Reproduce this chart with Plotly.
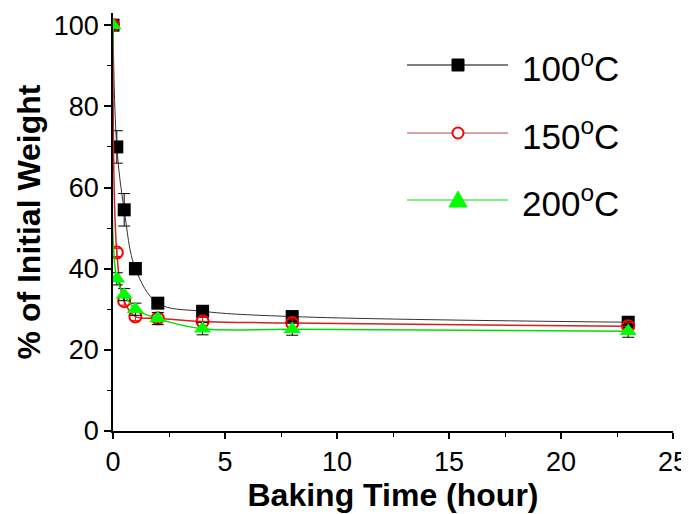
import plotly.graph_objects as go

# ---- data ----
time_h = [0, 0.17, 0.5, 1, 2, 4, 8, 23]
w_100 = [100, 70, 54.5, 40, 31.5, 29.5, 28.2, 26.8]
w_150 = [100, 44, 32, 28.2, 27.8, 27, 26.6, 25.8]
w_200 = [100, 37.5, 33.6, 30, 27.7, 25.2, 25.1, 24.6]
err_100 = [0, 4, 4, 1.5, 1, 1, 1, 1]
err_150 = [0, 1, 1, 1, 1, 1, 1, 1]
err_200 = [0, 1.5, 1.5, 1.5, 1.5, 1.5, 1.5, 1.5]
series_names = ["100<sup>o</sup>C", "150<sup>o</sup>C", "200<sup>o</sup>C"]

FONT = "Liberation Sans, Arial, sans-serif"

fig = go.Figure()

fig.add_trace(go.Scatter(
    x=time_h, y=w_100, mode="lines+markers", name=series_names[0],
    line=dict(color="#333333", width=1, shape="spline", smoothing=1.0),
    marker=dict(symbol="square", size=13, color="black"),
    error_y=dict(type="data", array=err_100, color="black", thickness=1, width=6),
    showlegend=False))
fig.add_trace(go.Scatter(
    x=time_h, y=w_150, mode="lines+markers", name=series_names[1],
    line=dict(color="#d42020", width=1.5, shape="spline", smoothing=1.0),
    marker=dict(symbol="circle-open", size=12, color="#ff0000", line=dict(width=2)),
    error_y=dict(type="data", array=err_150, color="#ff0000", thickness=1, width=5),
    showlegend=False))
fig.add_trace(go.Scatter(
    x=time_h, y=w_200, mode="lines+markers", name=series_names[2],
    line=dict(color="#00e000", width=1.5, shape="spline", smoothing=1.0),
    marker=dict(symbol="triangle-up", size=15, color="#00ff00"),
    error_y=dict(type="data", array=err_200, color="black", thickness=1, width=6),
    showlegend=False))

# ---- layout in screen pixels (page has an 8px body margin) ----
OFF = 8
W, H = 689, 514
x0s, x1s, ytop_s, ybot_s = 113, 673, 13, 431   # plot area on screen
L = x0s - OFF
R = W - (x1s - OFF)
T = ytop_s - OFF
B = H - (ybot_s - OFF)
pw, ph = W - L - R, H - T - B

def px(xs):
    return (xs - x0s) / pw

def py(ys):
    return (ybot_s - ys) / ph

shapes = []
annotations = []
rows = [65, 133, 200]
line_cols = ["#000000", "#b84a4a", "#00e000"]
for i, yrow in enumerate(rows):
    shapes.append(dict(type="line", xref="paper", yref="paper",
                       x0=px(407), x1=px(508), y0=py(yrow), y1=py(yrow),
                       line=dict(color=line_cols[i], width=1)))
    annotations.append(dict(text=series_names[i], xref="paper", yref="paper",
                            x=px(520), y=py(yrow + 1), xanchor="left", yanchor="middle",
                            showarrow=False, font=dict(family=FONT, size=35, color="black")))
cx = 458
shapes.append(dict(type="rect", xref="paper", yref="paper",
                   x0=px(cx - 6), x1=px(cx + 6), y0=py(rows[0] + 6), y1=py(rows[0] - 6),
                   fillcolor="black", line=dict(color="black", width=1)))
shapes.append(dict(type="circle", xref="paper", yref="paper",
                   x0=px(cx - 5.5), x1=px(cx + 5.5), y0=py(rows[1] + 5.5), y1=py(rows[1] - 5.5),
                   fillcolor="white", line=dict(color="#ff0000", width=2)))
tri = "M {} {} L {} {} L {} {} Z".format(px(cx - 9), py(rows[2] + 7), px(cx + 9), py(rows[2] + 7),
                                         px(cx), py(rows[2] - 9))
shapes.append(dict(type="path", xref="paper", yref="paper", path=tri,
                   fillcolor="#00ff00", line=dict(color="#00ff00", width=1)))

fig.update_layout(
    width=W, height=H,
    margin=dict(l=L, r=R, t=T, b=B),
    plot_bgcolor="white", paper_bgcolor="white",
    font=dict(family=FONT, color="black"),
    shapes=shapes, annotations=annotations,
)
fig.update_xaxes(
    range=[0, 25], tickvals=[0, 5, 10, 15, 20, 25], showgrid=False, zeroline=False,
    automargin=False,
    showline=True, linecolor="black", linewidth=1.5,
    ticks="outside", ticklen=6, tickwidth=1.5, tickcolor="black",
    minor=dict(ticks="outside", dtick=2.5, ticklen=4, tickwidth=1, tickcolor="black"),
    tickfont=dict(family=FONT, size=27),
    title=dict(text="<b>Baking Time (hour)</b>", font=dict(family=FONT, size=32), standoff=4),
)
fig.update_yaxes(
    range=[0, 103], tickvals=[0, 20, 40, 60, 80, 100], showgrid=False, zeroline=False,
    automargin=False,
    showline=True, linecolor="black", linewidth=1.5,
    ticks="outside", ticklen=7, tickwidth=1.5, tickcolor="black",
    minor=dict(ticks="outside", dtick=10, ticklen=4, tickwidth=1, tickcolor="black"),
    tickfont=dict(family=FONT, size=27),
    title=dict(text="<b>% of Initial Weight</b>", font=dict(family=FONT, size=32), standoff=4),
)

fig.write_html("out.html")
